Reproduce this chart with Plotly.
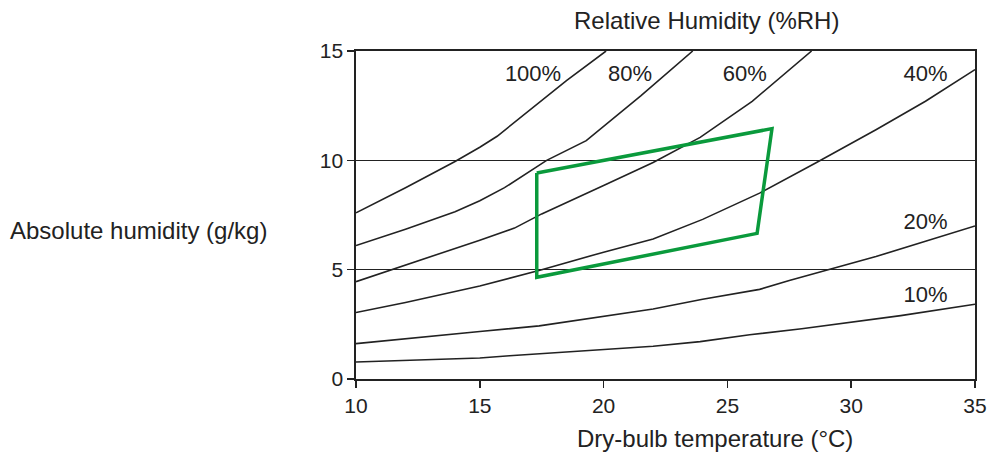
import plotly.graph_objects as go

# Relative humidity curves: (temperature °C, absolute humidity g/kg)
rh100_t = [10, 12, 14, 15, 15.7, 17, 18.5, 20.1]
rh100_w = [7.6, 8.75, 9.95, 10.6, 11.1, 12.3, 13.65, 15.0]

rh80_t = [10, 12, 14, 15, 16, 17.7, 19.3, 21.5, 23.6]
rh80_w = [6.1, 6.85, 7.65, 8.15, 8.75, 10.0, 10.9, 12.95, 15.0]

rh60_t = [10, 12, 14, 15, 16.4, 17.5, 20, 22, 23.9, 26, 28.4]
rh60_w = [4.45, 5.2, 5.95, 6.35, 6.9, 7.55, 8.85, 9.9, 11.05, 12.7, 15.0]

rh40_t = [10, 12, 15, 17.5, 20, 22, 24, 26.3, 28.6, 31, 33, 35]
rh40_w = [3.04, 3.5, 4.25, 5.0, 5.8, 6.4, 7.3, 8.5, 9.9, 11.4, 12.7, 14.15]

rh20_t = [10, 12, 15, 17.4, 20, 22, 24, 26.3, 27.5, 29.1, 31, 33, 35]
rh20_w = [1.62, 1.85, 2.17, 2.43, 2.85, 3.2, 3.65, 4.1, 4.5, 5.0, 5.6, 6.3, 7.0]

rh10_t = [10, 12, 15, 16.2, 18, 20, 22, 23.9, 25.9, 28, 30, 32, 35]
rh10_w = [0.78, 0.85, 0.96, 1.06, 1.2, 1.34, 1.5, 1.71, 2.02, 2.3, 2.6, 2.9, 3.42]

# Comfort zone polygon
zone_t = [17.3, 26.8, 26.2, 17.3, 17.3]
zone_w = [9.42, 11.45, 6.66, 4.65, 9.42]

# Curve labels
label_text = ["100%", "80%", "60%", "40%", "20%", "10%"]
label_t = [17.15, 21.07, 25.7, 33.0, 33.0, 33.0]
label_w = [13.9, 13.9, 13.9, 13.9, 7.13, 3.77]

x_ticks = [10, 15, 20, 25, 30, 35]
y_ticks = [0, 5, 10, 15]

INK = "#222222"
FONT = "Liberation Sans, Arial, sans-serif"

L, R, T, B = 356, 13, 51, 74
W, H = 988, 453

fig = go.Figure()
for t, w in [(rh100_t, rh100_w), (rh80_t, rh80_w), (rh60_t, rh60_w),
             (rh40_t, rh40_w), (rh20_t, rh20_w), (rh10_t, rh10_w)]:
    fig.add_trace(go.Scatter(x=t, y=w, mode="lines", line=dict(color=INK, width=1.6),
                             showlegend=False, hoverinfo="skip"))

fig.add_trace(go.Scatter(x=zone_t, y=zone_w, mode="lines", line=dict(color="#0a9a3c", width=3.5),
                         showlegend=False, hoverinfo="skip"))

fig.add_trace(go.Scatter(x=label_t, y=label_w, mode="text", text=label_text,
                         textfont=dict(size=22, color=INK, family=FONT),
                         showlegend=False, hoverinfo="skip"))

pw = W - L - R
ph = H - T - B


def ann(text, px, py):
    return dict(text=text, xref="paper", yref="paper",
                x=(px - L) / pw, y=1 - (py - T) / ph,
                xanchor="center", yanchor="middle", showarrow=False,
                font=dict(size=24, color=INK, family=FONT))


fig.update_layout(
    width=W, height=H,
    margin=dict(l=L, r=R, t=T, b=B, autoexpand=False),
    paper_bgcolor="white", plot_bgcolor="white",
    font=dict(family=FONT, color=INK, size=21),
    xaxis=dict(range=[10, 35], tickvals=x_ticks, showgrid=False, zeroline=False,
               showline=True, linecolor=INK, linewidth=1.6, mirror=True,
               ticks="outside", ticklen=7, tickwidth=1.5, tickcolor=INK,
               tickfont=dict(size=21), automargin=False),
    yaxis=dict(range=[0, 15], tickvals=y_ticks, showgrid=True, gridcolor=INK, gridwidth=1.4,
               zeroline=False, showline=True, linecolor=INK, linewidth=1.6, mirror=True,
               ticks="outside", ticklen=7, tickwidth=1.5, tickcolor=INK,
               tickfont=dict(size=21), automargin=False),
    annotations=[
        ann("Relative Humidity (%RH)", 706, 20),
        ann("Dry-bulb temperature (°C)", 715, 438),
        ann("Absolute humidity (g/kg)", 138, 230),
    ],
)

fig.write_html("out.html",
               config={"displayModeBar": False, "staticPlot": True},
               post_script="document.body.style.margin='0';document.body.style.overflow='hidden';")
